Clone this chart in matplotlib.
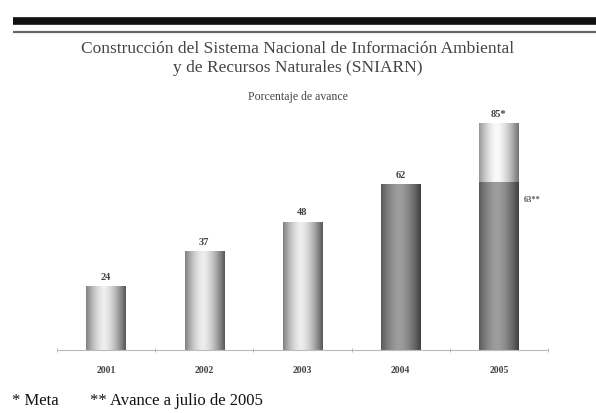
import matplotlib

matplotlib.use("Agg")
import matplotlib.pyplot as plt
import numpy as np

plt.rcParams["font.family"] = ["Liberation Serif", "DejaVu Serif"]

# Values.
years = ["2001", "2002", "2003", "2004", "2005"]
avance = [24, 37, 48, 62, 63]
meta_2005 = 85
value_labels = ["24", "37", "48", "62", "85*"]
avance_2005_label = "63**"
# shading per bar: (edge grey, centre grey)
light_shade = (0.42, 0.93)
dark_shade = (0.30, 0.62)
meta_shade = (0.52, 0.98)
bar_shades = [light_shade, light_shade, light_shade, dark_shade, dark_shade]


def shade_bar(ax, patch, shade):
    """Fill a bar with a cylinder-like grey gradient, clipped to the bar."""
    x0, y0 = patch.get_x(), patch.get_y()
    w, h = patch.get_width(), patch.get_height()
    t = np.linspace(0, 1, 200)
    edge, centre = shade
    prof = centre - (centre - edge) * np.abs(2 * t - 0.9) ** 1.6
    img = np.tile(prof, (2, 1))
    im = ax.imshow(img, cmap="gray", vmin=0, vmax=1, extent=(x0, x0 + w, y0, y0 + h),
                   aspect="auto", interpolation="bilinear", zorder=2)
    im.set_clip_path(patch)


fig = plt.figure(figsize=(5.96, 4.14), dpi=100)
W, H = 596, 414

# header rules
fig.add_artist(plt.Line2D([13 / W, 1], [1 - 21.5 / H] * 2, color="#111111",
                          linewidth=5.5, solid_capstyle="butt"))
fig.add_artist(plt.Line2D([13 / W, 1], [1 - 33 / H] * 2, color="#666666",
                          linewidth=1.6, solid_capstyle="butt"))

fig.text(0.5, 1 - 49 / H, "Construcción del Sistema Nacional de Información Ambiental",
         ha="center", va="center", fontsize=12.5, color="#444444")
fig.text(0.5, 1 - 68 / H, "y de Recursos Naturales (SNIARN)",
         ha="center", va="center", fontsize=12.5, color="#444444")
fig.text(0.5, 1 - 97 / H, "Porcentaje de avance",
         ha="center", va="center", fontsize=8.5, color="#444444")

left, right, base, top = 57, 548, 351, 84
ax = fig.add_axes([left / W, (H - base) / H, (right - left) / W, (base - top) / H])
x = np.arange(len(years))
bars = ax.bar(x, avance, width=0.4, color="none", edgecolor="none", zorder=2)
for patch, shade in zip(bars, bar_shades):
    shade_bar(ax, patch, shade)
meta_bar = ax.bar(x[-1], meta_2005 - avance[-1], width=0.4, bottom=avance[-1],
                  color="none", edgecolor="none", zorder=2)
shade_bar(ax, meta_bar[0], meta_shade)

tops = avance[:-1] + [meta_2005]
for xi, v, lab in zip(x, tops, value_labels):
    ax.text(xi, v + 2, lab, ha="center", va="bottom", fontsize=7.5,
            fontweight="bold", color="#444444")
ax.text(x[-1] + 0.25, avance[-1] - 6.5, avance_2005_label, ha="left", va="center",
        fontsize=6, fontweight="bold", color="#555555")

ax.set_xlim(-0.5, len(years) - 0.5)
ax.set_ylim(0, 100)
ax.set_xticks(x)
ax.set_xticklabels(years, fontsize=7, fontweight="bold", color="#444444")
ax.set_xticks(np.arange(-0.5, len(years)), minor=True)
ax.tick_params(axis="x", which="major", length=0, pad=11)
ax.tick_params(axis="x", which="minor", length=3, direction="inout", color="#aaaaaa")
ax.set_yticks([])
for side in ("top", "right", "left"):
    ax.spines[side].set_visible(False)
ax.spines["bottom"].set_color("#bbbbbb")
ax.spines["bottom"].set_linewidth(0.8)

fig.text(12 / W, 1 - 401 / H, "* Meta", ha="left", va="center", fontsize=12, color="#111111")
fig.text(90 / W, 1 - 401 / H, "** Avance a julio de 2005", ha="left", va="center",
         fontsize=12, color="#111111")

fig.savefig("out.png", dpi=100)
